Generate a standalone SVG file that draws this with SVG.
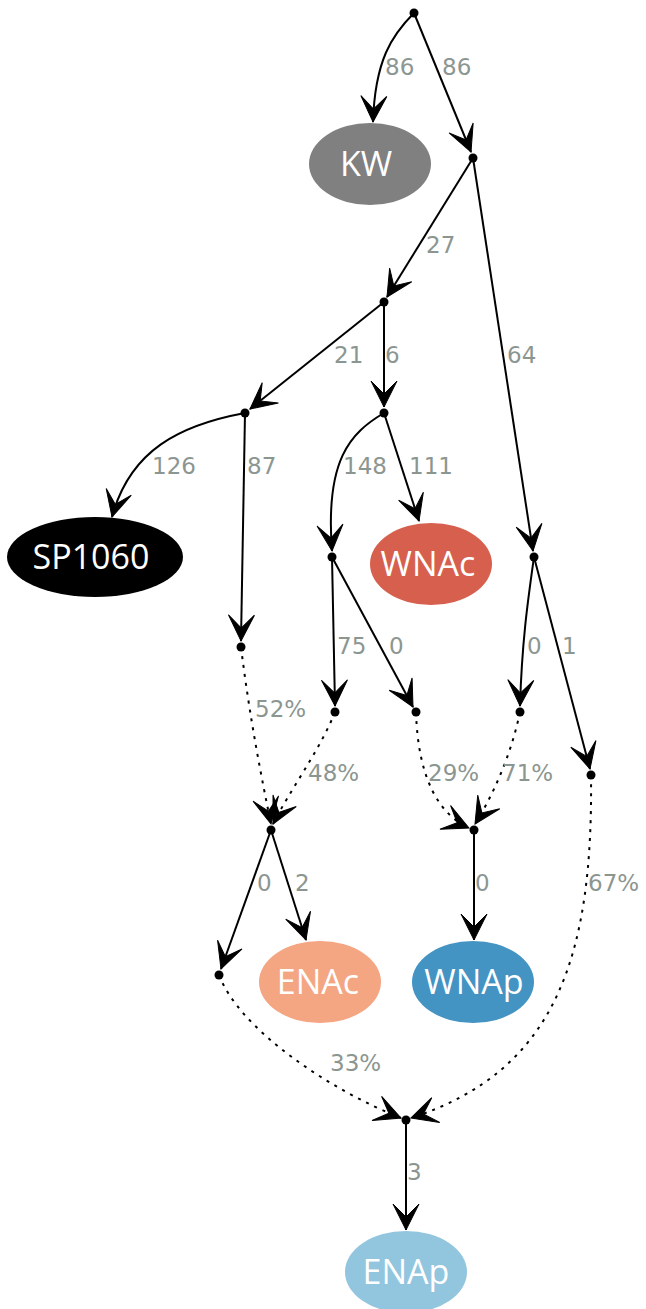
<svg xmlns="http://www.w3.org/2000/svg" width="646" height="1309" viewBox="0 0 646 1309">
<style>
.e{fill:none;stroke:#000;stroke-width:2;marker-end:url(#vee)}
.d{stroke-dasharray:3,6}
.pt{fill:#000}
.nl{font-family:"Open Sans","Liberation Sans",sans-serif;font-size:34px;fill:#fff;text-anchor:middle}
.el{font-family:"DejaVu Sans","Liberation Sans",sans-serif;font-size:23px;fill:#8c9691}
</style>
<defs>
<marker id="vee" markerUnits="userSpaceOnUse" markerWidth="30" markerHeight="30" viewBox="-2 -2 30 30" refX="26" refY="13" orient="auto">
<path d="M26,13 L0,0 L13,13 L0,26 Z" fill="#000" stroke="#000" stroke-width="1" stroke-linejoin="miter"/>
</marker>
</defs>
<g id="connectors">
<path class="e" d="M414,13 C392,35 375,60 373,122"/>
<path class="e" d="M414,13 L471,152"/>
<path class="e" d="M473,158 L387,297"/>
<path class="e" d="M473,158 L533,551"/>
<path class="e" d="M384,302 L250,409"/>
<path class="e" d="M384,302 L384,407"/>
<path class="e" d="M245,413 C180,425 130,450 112,517"/>
<path class="e" d="M245,413 L241,641"/>
<path class="e" d="M384,413 C350,433 325,460 332,551"/>
<path class="e" d="M384,413 L419,521"/>
<path class="e" d="M332,557 L335,706"/>
<path class="e" d="M332,557 L413,707"/>
<path class="e" d="M534,557 C528,600 522,640 520,706"/>
<path class="e" d="M534,557 L590,769"/>
<path class="e d" d="M241,647 C250,720 262,780 271,824"/>
<path class="e d" d="M335,712 C320,750 290,790 273,824"/>
<path class="e d" d="M416,712 C418,780 440,815 469,828"/>
<path class="e d" d="M520,712 C510,760 490,800 475,824"/>
<path class="e d" d="M591,775 C593,950 560,1070 411,1118"/>
<path class="e d" d="M219,975 C240,1030 330,1090 401,1118"/>
<path class="e" d="M271,830 L221,969"/>
<path class="e" d="M271,830 L306,940"/>
<path class="e" d="M474,830 L474,940"/>
<path class="e" d="M406,1120 L406,1230"/>
</g>
<g id="edge-labels">
<text class="el" x="385" y="75">86</text>
<text class="el" x="442" y="75">86</text>
<text class="el" x="426" y="253">27</text>
<text class="el" x="334" y="363">21</text>
<text class="el" x="385" y="363">6</text>
<text class="el" x="507" y="363">64</text>
<text class="el" x="343" y="474">148</text>
<text class="el" x="409" y="474">111</text>
<text class="el" x="152" y="474">126</text>
<text class="el" x="247" y="474">87</text>
<text class="el" x="337" y="654">75</text>
<text class="el" x="389" y="654">0</text>
<text class="el" x="527" y="654">0</text>
<text class="el" x="562" y="654">1</text>
<text class="el" x="255" y="717">52%</text>
<text class="el" x="308" y="781">48%</text>
<text class="el" x="428" y="781">29%</text>
<text class="el" x="502" y="781">71%</text>
<text class="el" x="257" y="891">0</text>
<text class="el" x="295" y="891">2</text>
<text class="el" x="475" y="891">0</text>
<text class="el" x="588" y="891">67%</text>
<text class="el" x="330" y="1071">33%</text>
<text class="el" x="407" y="1180">3</text>
</g>
<g id="p0"><circle class="pt" cx="414" cy="13" r="4.5"/></g>
<g id="p1"><circle class="pt" cx="473" cy="158" r="4.5"/></g>
<g id="p2"><circle class="pt" cx="384" cy="302" r="4.5"/></g>
<g id="p3"><circle class="pt" cx="245" cy="413" r="4.5"/></g>
<g id="p4"><circle class="pt" cx="384" cy="413" r="4.5"/></g>
<g id="p5"><circle class="pt" cx="332" cy="557" r="4.5"/></g>
<g id="p6"><circle class="pt" cx="534" cy="557" r="4.5"/></g>
<g id="p7"><circle class="pt" cx="241" cy="647" r="4.5"/></g>
<g id="p8"><circle class="pt" cx="335" cy="712" r="4.5"/></g>
<g id="p9"><circle class="pt" cx="416" cy="712" r="4.5"/></g>
<g id="p10"><circle class="pt" cx="520" cy="712" r="4.5"/></g>
<g id="p11"><circle class="pt" cx="591" cy="775" r="4.5"/></g>
<g id="p12"><circle class="pt" cx="271" cy="830" r="4.5"/></g>
<g id="p13"><circle class="pt" cx="474" cy="830" r="4.5"/></g>
<g id="p14"><circle class="pt" cx="219" cy="975" r="4.5"/></g>
<g id="p15"><circle class="pt" cx="406" cy="1120" r="4.5"/></g>
<g id="KW"><ellipse cx="370" cy="164" rx="61" ry="41" fill="#808080"/><text class="nl" x="366" y="176">KW</text></g>
<g id="SP1060"><ellipse cx="95" cy="557" rx="88" ry="40" fill="#000"/><text class="nl" x="91" y="569">SP1060</text></g>
<g id="WNAc"><ellipse cx="431" cy="564" rx="61" ry="41" fill="#d6604d"/><text class="nl" x="428" y="576">WNAc</text></g>
<g id="ENAc"><ellipse cx="320" cy="982" rx="61" ry="41" fill="#f4a582"/><text class="nl" x="318" y="994">ENAc</text></g>
<g id="WNAp"><ellipse cx="473" cy="982" rx="61" ry="41" fill="#4393c3"/><text class="nl" x="474" y="994">WNAp</text></g>
<g id="ENAp"><ellipse cx="406" cy="1272" rx="61" ry="41" fill="#92c5de"/><text class="nl" x="406" y="1284">ENAp</text></g>
</svg>
